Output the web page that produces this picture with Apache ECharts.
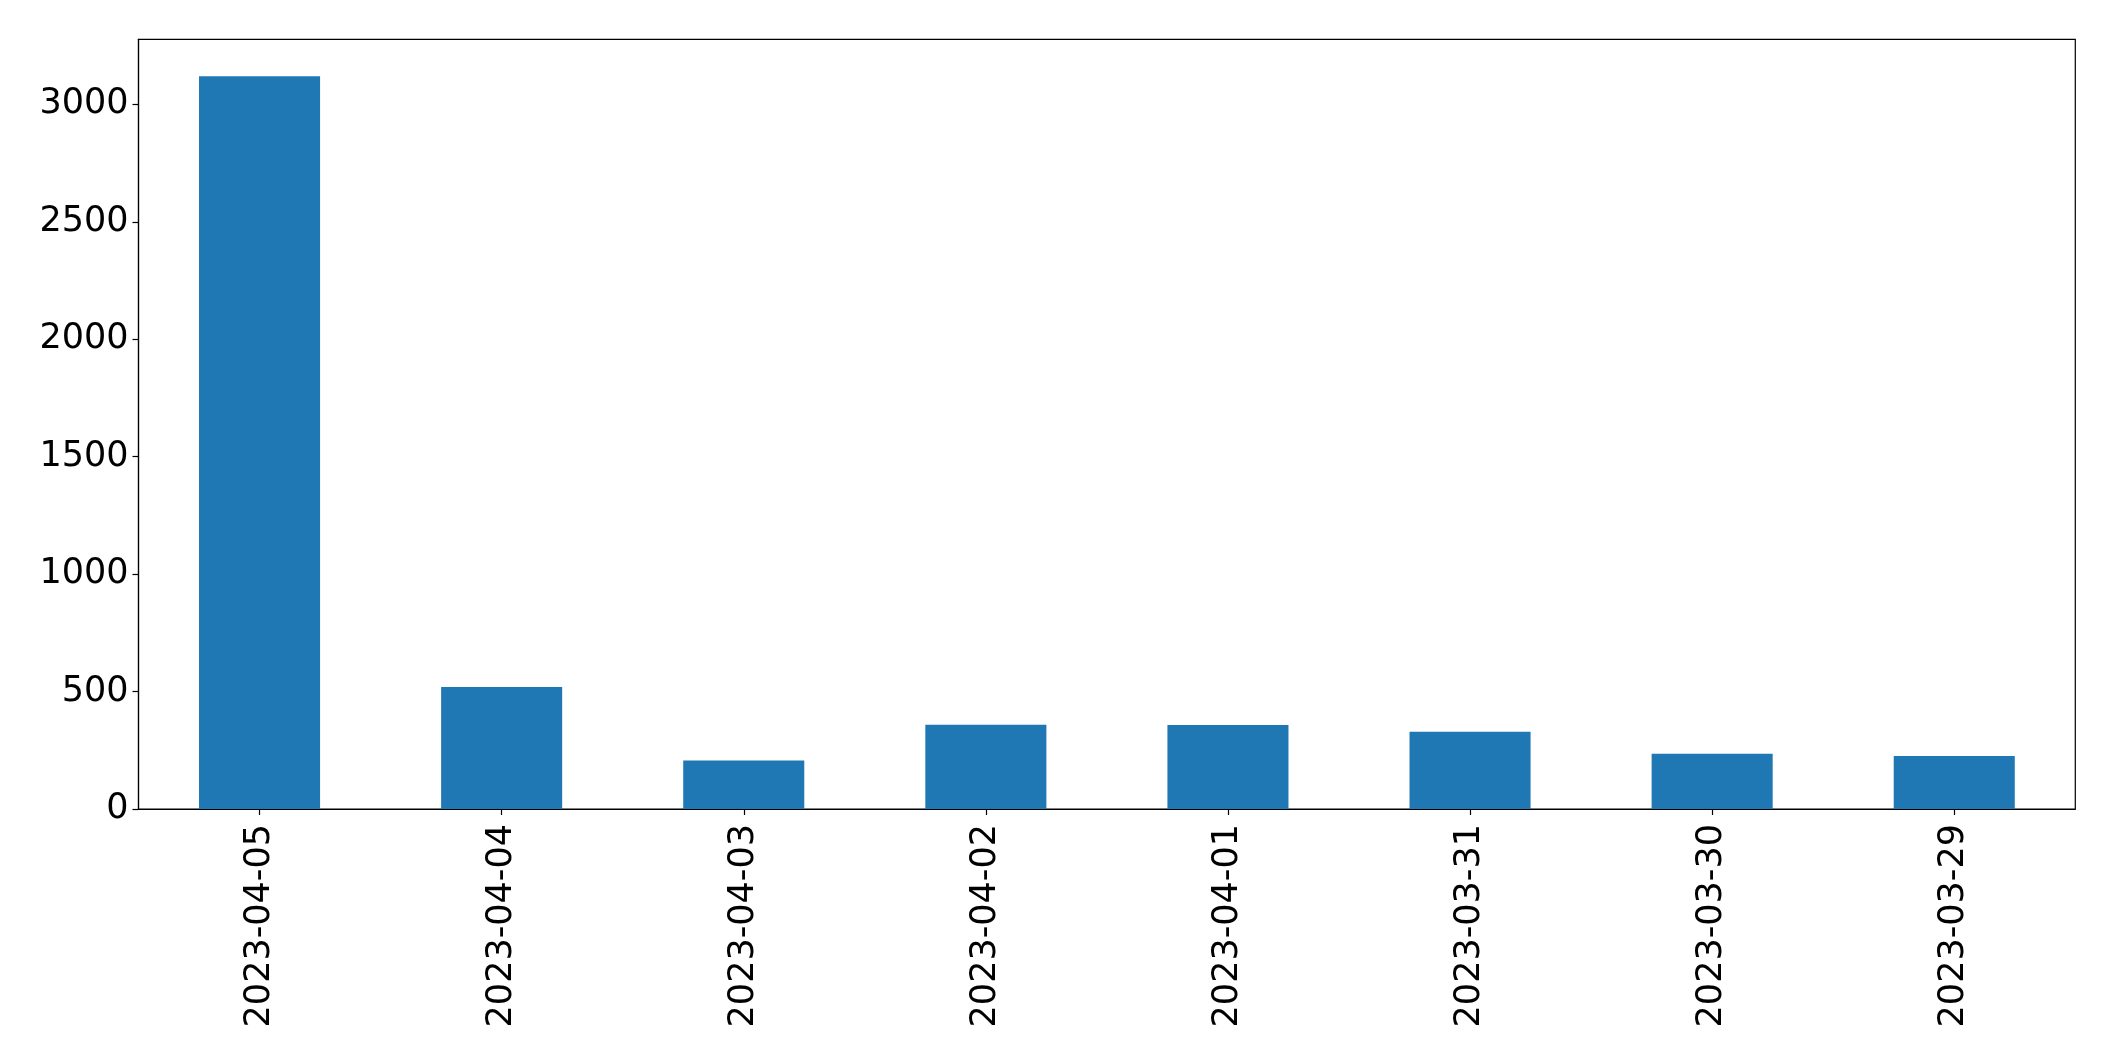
<!DOCTYPE html>
<html>
<head>
<meta charset="utf-8">
<script src="https://cdn.jsdelivr.net/npm/echarts@6/dist/echarts.min.js"></script>
<style>
html,body{margin:0;padding:0;background:#fff;}
#chart{width:2115px;height:1061px;}
</style>
</head>
<body>
<div id="chart"></div>
<script>
const categories = ['2023-04-05','2023-04-04','2023-04-03','2023-04-02','2023-04-01','2023-03-31','2023-03-30','2023-03-29'];
const values = [3120, 519, 206, 359, 358, 329, 235, 226];
const yTicks = [0, 500, 1000, 1500, 2000, 2500, 3000];

const chart = echarts.init(document.getElementById('chart'), null, {renderer: 'canvas'});
chart.setOption({
  animation: false,
  backgroundColor: '#ffffff',
  grid: {
    left: 138.5, right: 39.7, top: 39.3, bottom: 252,
    show: true, borderColor: '#000', borderWidth: 1.2, backgroundColor: 'transparent'
  },
  xAxis: {
    type: 'category',
    data: categories,
    axisLine: {show: true, lineStyle: {color: '#000', width: 1.2}},
    axisTick: {show: true, alignWithLabel: true, length: 6, lineStyle: {color: '#000', width: 1.2}},
    axisLabel: {
      rotate: 90, margin: 15, color: '#000',
      fontFamily: 'DejaVu Sans', fontSize: 35, interval: 0
    },
    splitLine: {show: false}
  },
  yAxis: {
    type: 'value',
    min: 0, max: 3277,
    axisLine: {show: true, lineStyle: {color: '#000', width: 1.2}},
    axisTick: {show: true, length: 6, lineStyle: {color: '#000', width: 1.2}, customValues: yTicks},
    axisLabel: {
      margin: 10, color: '#000',
      fontFamily: 'DejaVu Sans', fontSize: 35, customValues: yTicks,
      formatter: function (v) { return String(v); }
    },
    splitLine: {show: false}
  },
  series: [{
    type: 'bar',
    data: values,
    barWidth: '50%',
    itemStyle: {color: '#1f77b4'}
  }]
});
</script>
</body>
</html>
